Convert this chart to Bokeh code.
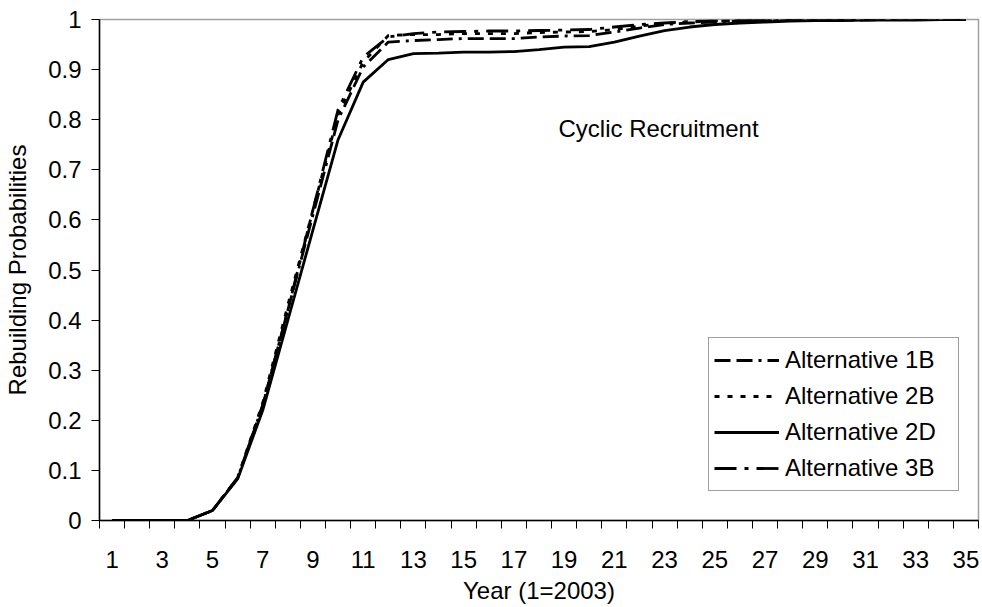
from bokeh.plotting import figure
from bokeh.models import Range1d, FixedTicker, Label, Legend, LegendItem
from bokeh.embed import file_html
from bokeh.resources import INLINE

# ---------------- data ----------------
years = list(range(1, 36))

alt_1b = [0, 0, 0, 0, 0.02, 0.085, 0.23, 0.42, 0.61, 0.80, 0.905, 0.955,
          0.958, 0.96, 0.962, 0.962, 0.962, 0.965, 0.967, 0.968, 0.975, 0.983,
          0.99, 0.993, 0.995, 0.997, 0.998, 0.998, 0.999, 0.999, 0.999, 1.0,
          1.0, 1.0, 1.0]
alt_2b = [0, 0, 0, 0, 0.02, 0.085, 0.235, 0.43, 0.62, 0.81, 0.915, 0.968,
          0.97, 0.97, 0.972, 0.972, 0.972, 0.974, 0.975, 0.976, 0.98, 0.987,
          0.992, 0.995, 0.997, 0.998, 0.998, 0.999, 0.999, 0.999, 1.0, 1.0,
          1.0, 1.0, 1.0]
alt_2d = [0, 0, 0, 0, 0.02, 0.083, 0.22, 0.40, 0.58, 0.76, 0.875, 0.92,
          0.932, 0.933, 0.935, 0.935, 0.936, 0.94, 0.945, 0.946, 0.955, 0.967,
          0.978, 0.985, 0.99, 0.993, 0.995, 0.997, 0.998, 0.998, 0.999, 0.999,
          0.999, 1.0, 1.0]
alt_3b = [0, 0, 0, 0, 0.02, 0.085, 0.23, 0.42, 0.62, 0.82, 0.925, 0.965,
          0.972, 0.975, 0.976, 0.977, 0.977, 0.978, 0.979, 0.98, 0.985, 0.99,
          0.993, 0.996, 0.997, 0.998, 0.999, 0.999, 0.999, 1.0, 1.0, 1.0,
          1.0, 1.0, 1.0]

series_names = ["Alternative 1B", "Alternative 2B", "Alternative 2D", "Alternative 3B"]

x_tick_values = [1, 3, 5, 7, 9, 11, 13, 15, 17, 19, 21, 23, 25, 27, 29, 31, 33, 35]
y_tick_values = [0, 0.1, 0.2, 0.3, 0.4, 0.5, 0.6, 0.7, 0.8, 0.9, 1.0]
y_tick_labels = ["0", "0.1", "0.2", "0.3", "0.4", "0.5", "0.6", "0.7", "0.8", "0.9", "1"]

x_title = "Year (1=2003)"
y_title = "Rebuilding Probabilities"
annotation = "Cyclic Recruitment"

# ---------------- figure ----------------
FONT = "Liberation Sans"

p = figure(width=982, height=607, output_backend="svg", toolbar_location=None,
           x_range=Range1d(0.5, 35.5), y_range=Range1d(0, 1),
           min_border_left=99, min_border_right=4, min_border_top=19,
           min_border_bottom=87)
p.background_fill_color = "white"
p.border_fill_color = "white"
p.outline_line_color = "#a0a0a0"
p.outline_line_width = 1.5
p.xgrid.visible = False
p.ygrid.visible = False

# x axis: ticks between categories, labels at odd years
boundaries = [y - 0.5 for y in years] + [years[-1] + 0.5]
p.xaxis.ticker = FixedTicker(ticks=x_tick_values, minor_ticks=boundaries)
p.xaxis.major_tick_line_color = None
p.xaxis.major_tick_out = 0
p.xaxis.major_tick_in = 0
p.xaxis.minor_tick_line_color = "black"
p.xaxis.minor_tick_out = 8
p.xaxis.minor_tick_in = 0
p.xaxis.axis_line_color = "black"
p.xaxis.axis_line_width = 1.5
p.xaxis.major_label_text_font = FONT
p.xaxis.major_label_text_font_size = "24px"
p.xaxis.major_label_text_color = "black"
p.xaxis.major_label_standoff = 22
p.xaxis.axis_label = x_title
p.xaxis.axis_label_text_font = FONT
p.xaxis.axis_label_text_font_size = "24px"
p.xaxis.axis_label_text_font_style = "normal"
p.xaxis.axis_label_text_color = "black"
p.xaxis.axis_label_standoff = 6

# y axis
p.yaxis.ticker = FixedTicker(ticks=y_tick_values, minor_ticks=[])
p.yaxis.major_label_overrides = {v: s for v, s in zip(y_tick_values, y_tick_labels)}
p.yaxis.major_tick_out = 8
p.yaxis.major_tick_in = 0
p.yaxis.major_tick_line_color = "black"
p.yaxis.minor_tick_line_color = None
p.yaxis.axis_line_color = "black"
p.yaxis.axis_line_width = 1.5
p.yaxis.major_label_text_font = FONT
p.yaxis.major_label_text_font_size = "24px"
p.yaxis.major_label_text_color = "black"
p.yaxis.major_label_standoff = 10
p.yaxis.axis_label = y_title
p.yaxis.axis_label_text_font = FONT
p.yaxis.axis_label_text_font_size = "24px"
p.yaxis.axis_label_text_font_style = "normal"
p.yaxis.axis_label_text_color = "black"
p.yaxis.axis_label_standoff = 14

# ---------------- lines ----------------
LW = 2.8
r1 = p.line(years, alt_1b, line_color="black", line_width=LW, line_dash="16 6 16 6 3 6")
r2 = p.line(years, alt_2b, line_color="black", line_width=LW, line_dash="5 8")
r4 = p.line(years, alt_3b, line_color="black", line_width=LW, line_dash="22 8 4 8")
r3 = p.line(years, alt_2d, line_color="black", line_width=LW)

legend = Legend(items=[LegendItem(label=series_names[0], renderers=[r1]),
                       LegendItem(label=series_names[1], renderers=[r2]),
                       LegendItem(label=series_names[2], renderers=[r3]),
                       LegendItem(label=series_names[3], renderers=[r4])],
                location=(609, 29))
legend.label_text_font = FONT
legend.label_text_font_size = "24px"
legend.label_text_color = "black"
legend.glyph_width = 65
legend.glyph_height = 20
legend.label_standoff = 6
legend.label_width = 168
legend.label_height = 34
legend.spacing = 2
legend.padding = 5
legend.margin = 0
legend.border_line_color = "#404040"
legend.border_line_width = 1
legend.background_fill_color = "white"
legend.background_fill_alpha = 1.0
p.add_layout(legend)

p.add_layout(Label(x=22.76, y=0.782, text=annotation, text_font=FONT,
                   text_font_size="24px", text_color="black",
                   text_align="center", text_baseline="middle"))

open("out.html", "w").write(file_html(p, INLINE))
